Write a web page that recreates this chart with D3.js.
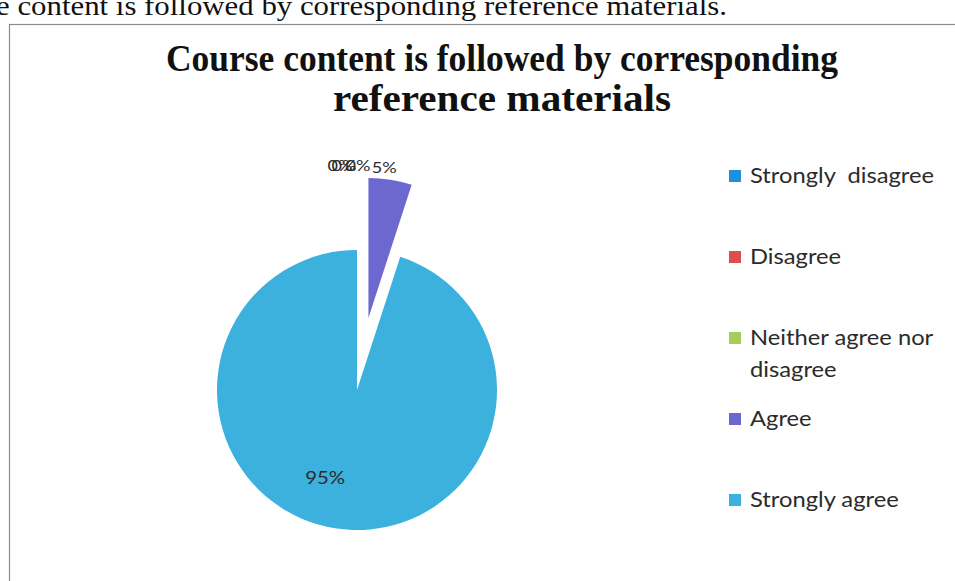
<!DOCTYPE html>
<html>
<head>
<meta charset="utf-8">
<script src="https://cdn.jsdelivr.net/npm/d3@7"></script>
<style>
  body { margin: 0; background: #fff; }
</style>
</head>
<body>
<div id="chart"></div>
<script>
var categories = ['Strongly  disagree', 'Disagree', 'Neither agree nor disagree', 'Agree', 'Strongly agree'];
var values = [0, 0, 0, 5, 95];
var valueLabels = ['0%', '0%', '0%', '5%', '95%'];
var colors = ['#1f8fdc', '#d9504c', '#a8cc5c', '#6b68cf', '#3cb1dd'];
var titleLines = ['Course content is followed by corresponding', 'reference materials'];
var captionText = 'e content is followed by corresponding reference materials.';

var width = 955,
    height = 581;

var cx = 357,
    cy = 390,
    radius = 140,
    explode = 73;

var serif = '"Liberation Serif", "Times New Roman", serif',
    sans = 'Lato, Carlito, Calibri, sans-serif',
    textColor = '#2b2b2b',
    stretch = 1.13; // the scan is a bit wider than tall

var svg = d3.select('#chart')
  .append('svg')
  .attr('width', width)
  .attr('height', height);

// text of the page above the chart (cut off by the scan)
svg.append('text')
  .text(captionText)
  .attr('x', -4)
  .attr('y', 15)
  .attr('font-family', serif)
  .attr('font-size', 27)
  .attr('textLength', 731)
  .attr('lengthAdjust', 'spacingAndGlyphs')
  .attr('fill', '#111');

// chart frame
svg.append('rect')
  .attr('x', 9.5)
  .attr('y', 24.5)
  .attr('width', width + 10)
  .attr('height', height + 10)
  .attr('fill', 'none')
  .attr('stroke', '#8a8a8a')
  .attr('stroke-width', 1.2);

// title
var titleWidths = [672, 338];
svg.selectAll('.title')
  .data(titleLines)
  .enter()
  .append('text')
  .attr('class', 'title')
  .text(function(d) { return d; })
  .attr('x', 502)
  .attr('y', function(d, i) { return 71 + i * 40; })
  .attr('text-anchor', 'middle')
  .attr('font-family', serif)
  .attr('font-weight', 'bold')
  .attr('font-size', 37)
  .attr('textLength', function(d, i) { return titleWidths[i]; })
  .attr('lengthAdjust', 'spacingAndGlyphs')
  .attr('fill', '#111');

function widen(t) {
  var w = t.node().getComputedTextLength();
  t.attr('textLength', w * stretch).attr('lengthAdjust', 'spacingAndGlyphs');
}

// pie
var pie = d3.pie().sort(null).value(function(d) { return d; });
var arcs = pie(values);

var arc = d3.arc().innerRadius(0).outerRadius(radius);
var outLabelArc = d3.arc().innerRadius(radius + 12).outerRadius(radius + 12);
var inLabelArc = d3.arc().innerRadius(radius * 0.68).outerRadius(radius * 0.68);

function offset(d, i) {
  // only the Agree slice is pulled out
  if (i !== 3) return [0, 0];
  var a = (d.startAngle + d.endAngle) / 2;
  return [explode * Math.sin(a), -explode * Math.cos(a)];
}

var g = svg.append('g')
  .attr('transform', 'translate(' + cx + ',' + cy + ')');

g.selectAll('path')
  .data(arcs)
  .enter()
  .append('path')
  .attr('d', arc)
  .attr('fill', function(d, i) { return colors[i]; })
  .attr('transform', function(d, i) {
    var o = offset(d, i);
    return 'translate(' + o[0] + ',' + o[1] + ')';
  });

// data labels - empty slices sit on top of each other next to the 5% one
var labelShift = [-17, -13, 1, -8, -17];
g.selectAll('.vlabel')
  .data(arcs)
  .enter()
  .append('text')
  .attr('class', 'vlabel')
  .text(function(d, i) { return valueLabels[i]; })
  .attr('transform', function(d, i) {
    var p, o;
    if (d.value > 50) {
      p = inLabelArc.centroid(d);
      return 'translate(' + (p[0] + labelShift[i]) + ',' + (p[1] - 6) + ')';
    }
    p = outLabelArc.centroid(d);
    o = d.value === 0 ? [0, -explode] : offset(d, i);
    return 'translate(' + (p[0] + o[0] + labelShift[i]) + ',' + (p[1] + o[1]) + ')';
  })
  .attr('text-anchor', 'middle')
  .attr('dy', '0.35em')
  .attr('font-family', sans)
  .attr('font-size', function(d) { return d.value > 50 ? 18 : 16; })
  .attr('fill', textColor)
  .each(function() { widen(d3.select(this)); });

// legend
var legendX = 729,
    legendY = 176,
    legendStep = 81,
    box = 12,
    maxWidth = 195,
    legendFont = 21;

var legend = svg.append('g');

categories.forEach(function(c, i) {
  var y = legendY + i * legendStep;
  legend.append('rect')
    .attr('x', legendX)
    .attr('y', y - box / 2)
    .attr('width', box)
    .attr('height', box)
    .attr('fill', colors[i]);

  var t = legend.append('text')
    .attr('x', legendX + 21)
    .attr('y', y)
    .attr('dy', '0.35em')
    .attr('font-family', sans)
    .attr('font-size', legendFont)
    .attr('fill', textColor)
    .style('white-space', 'pre')
    .text(c);

  // wrap long entries onto a second line
  if (t.node().getComputedTextLength() > maxWidth) {
    var words = c.split(' ');
    var last = words.pop();
    t.text(words.join(' '));
    var t2 = legend.append('text')
      .attr('x', legendX + 21)
      .attr('y', y + 32)
      .attr('dy', '0.35em')
      .attr('font-family', sans)
      .attr('font-size', legendFont)
      .attr('fill', textColor)
      .text(last);
    widen(t2);
  }
  widen(t);
});
</script>
</body>
</html>
